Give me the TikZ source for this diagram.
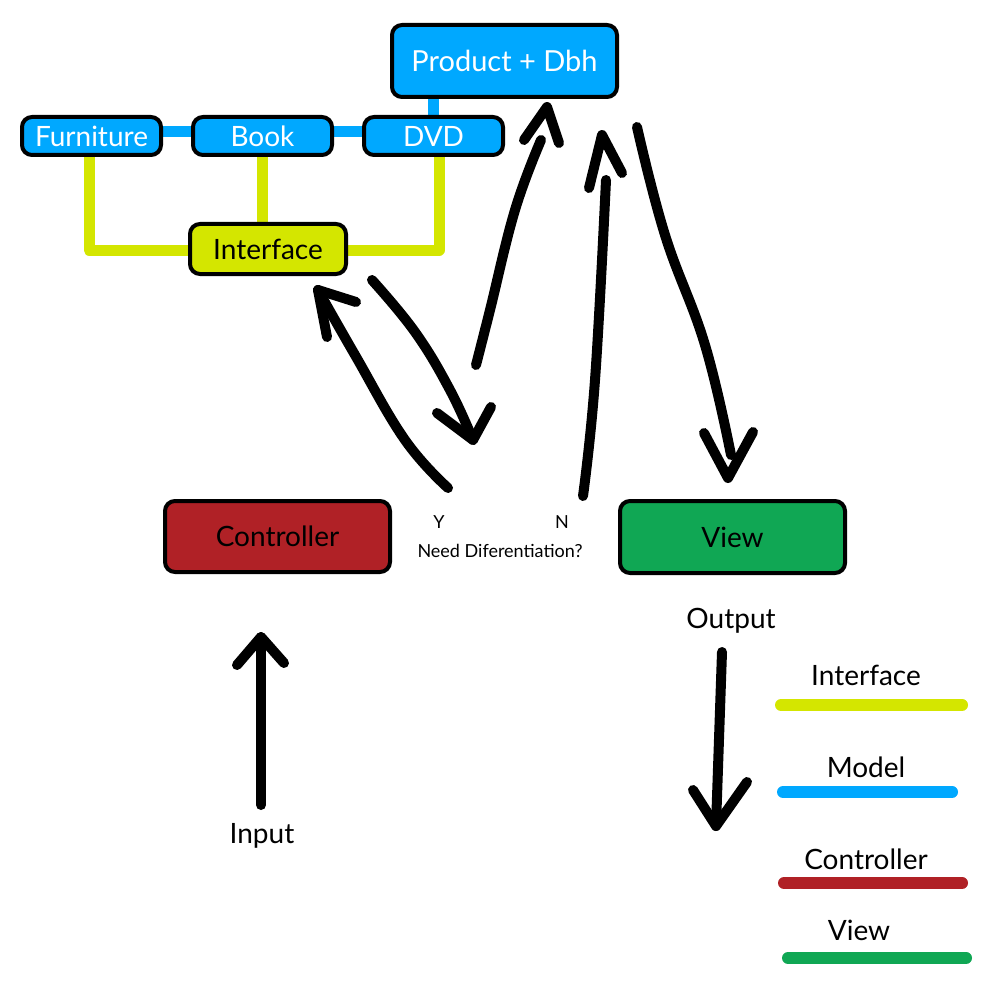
\documentclass[tikz,border=0pt]{standalone}
\usepackage{fontspec}
\setmainfont{Lato}
\definecolor{modelblue}{RGB}{0,168,255}
\definecolor{ifyellow}{RGB}{212,230,0}
\definecolor{ctrlred}{RGB}{176,33,38}
\definecolor{viewgreen}{RGB}{16,167,84}
\pgfdeclarelayer{bg}
\pgfdeclarelayer{conn}
\pgfsetlayers{bg,conn,main}
\tikzset{
  box/.style={draw=black, line width=4pt, rounded corners=10pt, inner sep=0pt,
    font=\fontsize{28}{30}\selectfont},
  hand/.style={line width=10pt, line cap=round, line join=round, black},
  modelconn/.style={line width=11pt, modelblue, line cap=round},
  ifconn/.style={line width=11pt, ifyellow, line cap=round, line join=round},
  legline/.style={line width=12pt, line cap=round},
  lbl/.style={anchor=base, font=\fontsize{28}{30}\selectfont, inner sep=0pt},
  small/.style={anchor=base, font=\fontsize{18}{20}\selectfont, inner sep=0pt}
}
\begin{document}
\begin{tikzpicture}[x=1pt,y=-1pt]
\begin{pgfonlayer}{bg}
\fill[white] (0,0) rectangle (1000,1000);
\end{pgfonlayer}
\useasboundingbox (0,0) rectangle (1000,1000);

% model boxes
\node[box, fill=modelblue, text=white, minimum width=225pt, minimum height=72pt,
  font=\fontsize{29}{31}\selectfont] (prod) at (504.5,61) {Product + Dbh};
\node[box, fill=modelblue, text=white, minimum width=139pt, minimum height=38pt] (furn) at (91.5,136) {Furniture};
\node[box, fill=modelblue, text=white, minimum width=139pt, minimum height=38pt] (book) at (262.5,136) {Book};
\node[box, fill=modelblue, text=white, minimum width=139pt, minimum height=38pt] (dvd) at (433.5,136) {DVD};
\node[box, fill=ifyellow, text=black, minimum width=156pt, minimum height=50pt] (iface) at (268,249) {Interface};

\node[box, fill=ctrlred, text=black, minimum width=225pt, minimum height=71pt] (ctrl) at (277.5,536.5) {Controller};
\node[box, fill=viewgreen, text=black, minimum width=225pt, minimum height=72pt] (view) at (732.5,537) {View};

% connectors behind boxes
\begin{pgfonlayer}{conn}
\draw[modelconn] ([yshift=4.5pt]furn.east) -- ([yshift=4.5pt]book.west);
\draw[modelconn] ([yshift=4.5pt]book.east) -- ([yshift=4.5pt]dvd.west);
\draw[modelconn] (prod.south -| dvd.north) -- (dvd.north);
\draw[ifconn] ([xshift=-2.5pt]furn.south) |- ([yshift=-1pt]iface.west);
\draw[ifconn] (book.south) -- (book.south |- iface.north);
\draw[ifconn] ([xshift=5.5pt]dvd.south) |- ([yshift=-1pt]iface.east);
\end{pgfonlayer}

% texts
\node[small] (ylbl) at (439,528) {Y};
\node[small] (nlbl) at (562,528) {N};
\node[small] (need) at (500,557) {Need Diferentiation?};
\node[lbl] (outlbl) at (731,628) {Output};
\node[lbl] (inlbl) at (262,843) {Input};

% hand drawn arrows
% Y -> Interface
\coordinate (a1) at (448,488);
\coordinate (a2) at (318,290);
\draw[hand] plot[smooth, tension=0.7] coordinates {(a1) (405,440) (355,355) (a2)};
\draw[hand] (356,302) -- (a2) -- (327,337);
% Interface -> Y
\coordinate (b1) at (372,280);
\coordinate (b2) at (473,440);
\draw[hand] plot[smooth, tension=0.7] coordinates {(b1) (415,332) (450,390) (b2)};
\draw[hand] (437,413) -- (b2) -- (491,407);
% Y -> Product
\coordinate (c1) at (476,365);
\coordinate (c2) at (547,107);
\draw[hand] plot[smooth, tension=0.7] coordinates {(c1) (490,310) (515,210) (541,140)};
\draw[hand] (524,140) -- (c2) -- (559,143);
% N -> Product
\coordinate (d1) at (583,496);
\coordinate (d2) at (602,135);
\draw[hand] plot[smooth, tension=0.7] coordinates {(d1) (595,380) (606,180)};
\draw[hand] (589,188) -- (d2) -- (622,173);
% Product -> View
\coordinate (e1) at (637,127);
\coordinate (e2) at (728,478);
\draw[hand] plot[smooth, tension=0.7] coordinates {(e1) (665,235) (705,345) (731,455)};
\draw[hand] (704,433) -- (e2) -- (753,432);
% input
\coordinate (i1) at (261,805);
\coordinate (i2) at (261,637);
\draw[hand] (i1) -- (i2);
\draw[hand] (237,665) -- (i2) -- (284,663);
% output
\coordinate (o1) at (722,652);
\coordinate (o2) at (716,826);
\draw[hand] (o1) -- (o2);
\draw[hand] (693,790) -- (o2) -- (747,782);

% legend
\node[lbl] (legif) at (866,685) {Interface};
\draw[legline, ifyellow] (781,705) -- (962,705);
\node[lbl] (legmodel) at (866,777) {Model};
\draw[legline, modelblue] (783,792) -- (952,792);
\node[lbl] (legctrl) at (866,869) {Controller};
\draw[legline, ctrlred] (784,883) -- (962,883);
\node[lbl] (legview) at (859,940) {View};
\draw[legline, viewgreen] (788,958) -- (966,958);
\end{tikzpicture}
\end{document}
